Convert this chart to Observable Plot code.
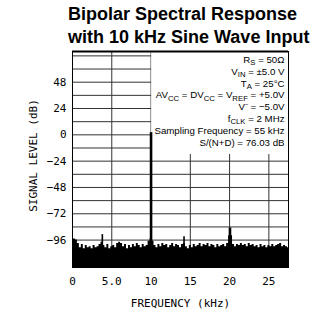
<!DOCTYPE html>
<html><head><meta charset="utf-8">
<script src="https://cdn.jsdelivr.net/npm/d3@7"></script>
<script src="https://cdn.jsdelivr.net/npm/@observablehq/plot@0.6"></script>
<style>
body{margin:0;background:#fff;width:320px;height:316px;overflow:hidden;position:relative}
#title{position:absolute;left:68px;top:3px;font:bold 18px/22.6px "Liberation Sans",Arial,sans-serif;color:#000;white-space:nowrap}
#chart{position:absolute;left:0;top:48px}
</style></head><body>
<div id="title">Bipolar Spectral Response<br>with 10 kHz Sine Wave Input</div>
<div id="chart"></div>
<script>
// FFT noise floor, one value per 0.25 kHz bin (dB)
const binWidth = 0.25;
const noiseLevels = [
  -97,-95,-96,-99,-103,-100,-104,-101,-103,-102,-104,-101,-103,-102,-100,-98,
  -101,-103,-100,-104,-102,-101,-103,-99,-98,-99,-102,-100,-104,-101,-103,-100,
  -102,-99,-101,-103,-100,-102,-101,-97,-95,-97,-101,-103,-100,-102,-99,-101,
  -100,-103,-101,-99,-102,-100,-101,-103,-100,-99,-102,-104,-101,-103,-100,-102,
  -101,-99,-102,-100,-101,-99,-102,-100,-101,-103,-100,-102,-101,-100,-102,-99,
  -92,-92,-100,-102,-100,-101,-99,-101,-100,-102,-99,-101,-100,-102,-101,-103,
  -100,-102,-101,-103,-101,-102,-100,-102,-101,-100,-99,-102,-101,-102,-103
];
// discrete tones: fundamental, harmonic and spurs
const spikeFreqs  = [3.8, 10.0, 14.2, 20.05];
const spikeLevels = [-91, 2, -93, -85];

const yTicks = [-96, -72, -48, -24, 0, 24, 48];
const yGrid = [-108, -96, -84, -72, -60, -48, -36, -24, -12, 0, 12, 24, 36, 48, 60, 72];
const xTicks = [0, 5, 10, 15, 20, 25];
const xTickLabels = ["0", "5.0", "10", "15", "20", "25"];
const xDomain = [0, 27.5];
const yDomain = [-121, 76];
const noteBox = {x1: 10.08, y1: -18};
const notes = [
  "R_{S} = 50\u03A9",
  "V_{IN} = \u00B15.0 V",
  "T_{A} = 25\u00B0C",
  "AV_{CC} = DV_{CC} = V_{REF} = +5.0V",
  "V\u207B = \u22125.0V",
  "f_{CLK} = 2 MHz",
  "Sampling Frequency = 55 kHz",
  "S/(N+D) = 76.03 dB"
];

const noise = noiseLevels.map((db, i) => ({f: i * binWidth, db}));
const spikes = spikeFreqs.map((f, i) => ({f, db: spikeLevels[i]}));
const mono = "DejaVu Sans Mono";
const sans = "Liberation Sans";

const svg = Plot.plot({
  width: 320,
  height: 268,
  marginLeft: 72,
  marginRight: 32,
  marginTop: 3,
  marginBottom: 49,
  style: {fontFamily: mono, fontSize: "11px", background: "white", color: "black"},
  x: {domain: xDomain},
  y: {domain: yDomain},
  marks: [
    Plot.gridY(yGrid, {stroke: "#333", strokeOpacity: 1}),
    Plot.gridX(xTicks.slice(1), {stroke: "#333", strokeOpacity: 1}),
    Plot.rect([noteBox], {x1: "x1", x2: xDomain[1], y1: "y1", y2: yDomain[1], fill: "white"}),
    Plot.areaY(noise, {x: "f", y1: yDomain[0], y2: "db", curve: "step", fill: "black"}),
    Plot.ruleX(spikes, {x: "f", y1: yDomain[0], y2: "db", stroke: "black", strokeWidth: d => d.db > -88 ? 2.6 : 1.6}),
    Plot.frame({stroke: "black"}),
    Plot.ruleY([yDomain[1]], {stroke: "black", strokeWidth: 2}),
    Plot.axisY({ticks: yTicks, tickSize: 0, tickPadding: 6, label: null, fontSize: 11, fontFamily: mono}),
    Plot.axisX({ticks: xTicks, tickSize: 0, tickPadding: 10, label: null, fontSize: 11, fontFamily: mono,
      tickFormat: d => xTickLabels[xTicks.indexOf(d)]}),
    Plot.text(["SIGNAL LEVEL (dB)"], {text: d => d, frameAnchor: "left", textAnchor: "middle", rotate: -90, dx: -39, dy: -4, fontSize: 11, fontFamily: mono}),
    Plot.text(["FREQUENCY (kHz)"], {text: d => d, frameAnchor: "bottom", lineAnchor: "middle", dy: 36, fontSize: 11, fontFamily: mono}),
    ...notes.map((s, i) => Plot.text([s], {text: d => d, frameAnchor: "top-right", textAnchor: "end", lineAnchor: "middle",
      dx: -4, dy: 8.3 + i * 11.8, fontSize: 9.7, fontFamily: sans}))
  ]
});

// turn _{..} markup into subscripts
d3.select(svg).selectAll("text").each(function() {
  const t = this.textContent;
  if (!t.includes("_{")) return;
  const parts = t.split(/(_\{[^}]*\})/).filter(p => p);
  this.textContent = "";
  let shifted = false;
  for (const p of parts) {
    const sub = p.startsWith("_{");
    const ts = d3.select(this).append("tspan").text(sub ? p.slice(2, -1) : p);
    if (sub) {
      ts.attr("font-size", "80%");
      if (!shifted) { ts.attr("dy", 2.3); shifted = true; }
    } else if (shifted) {
      ts.attr("dy", -2.3); shifted = false;
    }
  }
});
document.getElementById("chart").appendChild(svg);
</script>
</body></html>
